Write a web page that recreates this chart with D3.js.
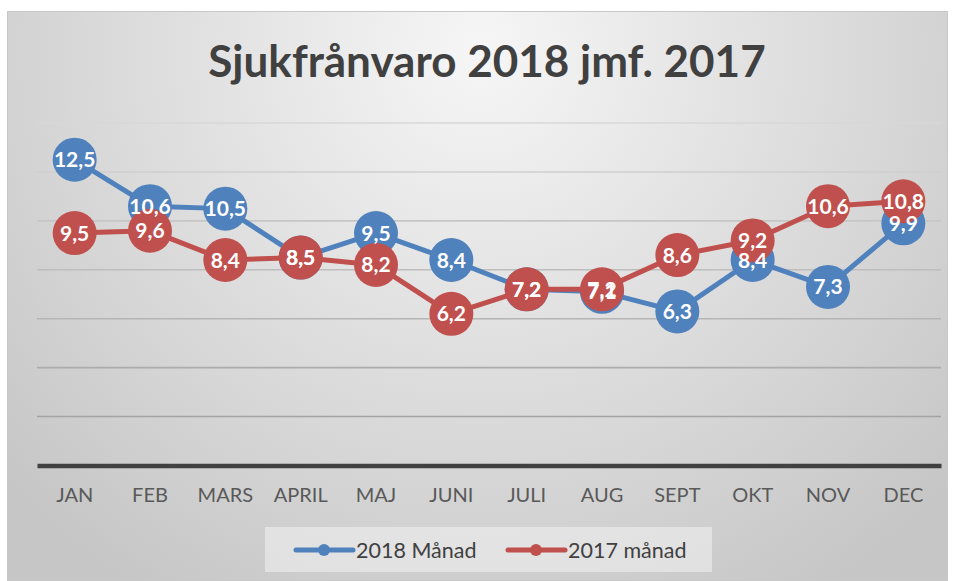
<!DOCTYPE html>
<html><head><meta charset="utf-8">
<script src="https://cdn.jsdelivr.net/npm/d3@7"></script>
<style>html,body{margin:0;padding:0;background:#fff;}svg{display:block;}</style>
</head><body>
<svg id="chart" width="957" height="581"></svg>
<script>
const months = ["JAN","FEB","MARS","APRIL","MAJ","JUNI","JULI","AUG","SEPT","OKT","NOV","DEC"];
const values2018 = [12.5,10.6,10.5,8.5,9.5,8.4,7.2,7.1,6.3,8.4,7.3,9.9];
const values2017 = [9.5,9.6,8.4,8.5,8.2,6.2,7.2,7.2,8.6,9.2,10.6,10.8];
const yTicks = [2,4,6,8,10,12,14];
const seriesNames = ["2018 Månad","2017 månad"];
const title = "Sjukfrånvaro 2018 jmf. 2017";

const colors = ["#4f81bd","#c0504d"];
const svg = d3.select("#chart");
const defs = svg.append("defs");
const rg = defs.append("radialGradient").attr("id","bg")
  .attr("gradientUnits","userSpaceOnUse").attr("cx",480).attr("cy",50).attr("r",640);
rg.append("stop").attr("offset","0%").attr("stop-color","#f6f6f6");
rg.append("stop").attr("offset","100%").attr("stop-color","#c6c6c6");
const gg = defs.append("linearGradient").attr("id","grid")
  .attr("gradientUnits","userSpaceOnUse").attr("x1",0).attr("y1",120).attr("x2",0).attr("y2",470);
gg.append("stop").attr("offset","0%").attr("stop-color","#d8d8d8");
gg.append("stop").attr("offset","100%").attr("stop-color","#9a9a9a");

svg.append("rect").attr("x",7.5).attr("y",11.5).attr("width",940).attr("height",569)
  .attr("fill","url(#bg)").attr("stroke","#c8c8c8").attr("stroke-width",1);

const x = d3.scaleBand().domain(months).range([37,941]);
const y = d3.scaleLinear().domain([0,14]).range([465.5,123]);

// gridlines
svg.append("g").selectAll("line").data(yTicks).join("line")
  .attr("x1",37).attr("x2",941).attr("y1",d=>y(d)).attr("y2",d=>y(d))
  .attr("stroke","url(#grid)").attr("stroke-width",1.6);

// x axis
const xAxis = svg.append("g").attr("transform",`translate(0,${y(0)})`)
  .call(d3.axisBottom(x).tickSize(0).tickPadding(22));
xAxis.select(".domain").attr("stroke","#404040").attr("stroke-width",4.5);
xAxis.selectAll("text").attr("font-family","Lato").attr("font-size",20).attr("fill","#595959");

svg.append("text").attr("x",487).attr("y",77).attr("text-anchor","middle")
  .attr("font-family","Lato").attr("font-weight","bold").attr("font-size",44)
  .attr("fill","#404040").text(title);

const series = [values2018, values2017];
const line = d3.line().x((d,i)=>x(months[i])+x.bandwidth()/2).y(d=>y(d));
series.forEach((vals,s)=>{
  const g = svg.append("g");
  g.append("path").datum(vals).attr("d",line).attr("fill","none")
    .attr("stroke",colors[s]).attr("stroke-width",5).attr("stroke-linejoin","round");
  g.selectAll("circle").data(vals).join("circle")
    .attr("cx",(d,i)=>x(months[i])+x.bandwidth()/2).attr("cy",d=>y(d)).attr("r",22)
    .attr("fill",colors[s]);
});
series.forEach((vals,s)=>{
  svg.append("g").selectAll("text").data(vals).join("text")
    .attr("x",(d,i)=>x(months[i])+x.bandwidth()/2).attr("y",d=>y(d)+7.5)
    .attr("text-anchor","middle").attr("font-family","Lato").attr("font-weight","bold")
    .attr("font-size",21).attr("fill","#fff")
    .text(d=>d3.format(".1f")(d).replace(".",","));
});

// legend
svg.append("rect").attr("x",265).attr("y",527).attr("width",447).attr("height",45)
  .attr("fill","#f2f2f2").attr("fill-opacity",0.55);
const legX = [296,508];
seriesNames.forEach((n,s)=>{
  const g = svg.append("g").attr("transform",`translate(${legX[s]},550)`);
  g.append("line").attr("x1",0).attr("x2",57).attr("stroke",colors[s]).attr("stroke-width",5).attr("stroke-linecap","round");
  g.append("circle").attr("cx",28).attr("r",6).attr("fill",colors[s]);
  g.append("text").attr("x",60).attr("y",7.5).attr("font-family","Lato").attr("font-size",21.5)
    .attr("fill","#404040").text(n);
});
</script>
</body></html>
